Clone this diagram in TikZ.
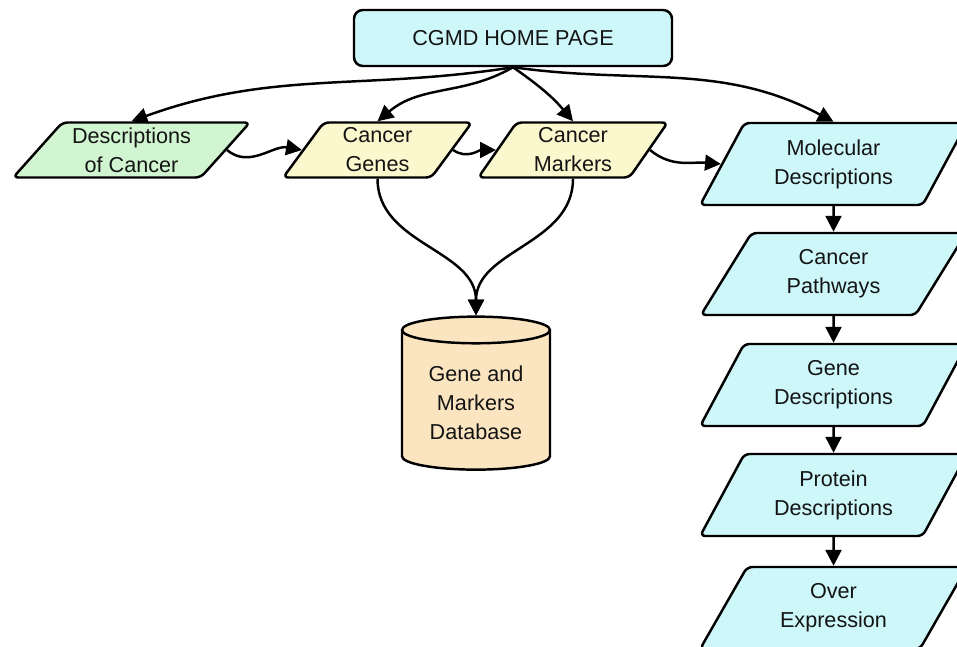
\documentclass[tikz,border=0pt]{standalone}
\usepackage{fontspec}
\setmainfont{Liberation Sans}
\usetikzlibrary{arrows.meta,shapes.geometric}
\definecolor{cyanfill}{RGB}{206,247,250}
\definecolor{greenfill}{RGB}{208,245,208}
\definecolor{yellowfill}{RGB}{251,248,205}
\definecolor{tanfill}{RGB}{251,229,192}
\tikzset{
  flow/.style={-{Triangle[length=9pt, width=9pt]}, line width=1.4pt, draw=black},
  homebox/.style={draw=black, line width=1.4pt, rectangle, rounded corners=5pt, fill=cyanfill, minimum width=6.36cm, minimum height=1.12cm},
  slanted/.style={draw=black, line width=1.4pt, trapezium, trapezium stretches=true, rounded corners=3pt, align=center, inner sep=1pt,
    trapezium left angle=60, trapezium right angle=120},
  topbox/.style={slanted, fill=yellowfill, minimum width=3.8cm, minimum height=1.1cm},
  sidebox/.style={slanted, fill=cyanfill, minimum width=5.34cm, minimum height=1.64cm},
  dbase/.style={draw=black, line width=1.4pt, cylinder, shape border rotate=90, aspect=0.25, fill=tanfill, align=center,
    minimum width=2.96cm, minimum height=3.06cm}
}
\begin{document}
\begin{tikzpicture}[font=\fontsize{12.3}{16.5}\selectfont, text=black!92]
  \useasboundingbox (0,0) rectangle (19.14,-12.92);

  \node[homebox] (home) at (10.26,-0.76) {CGMD HOME PAGE};

  % top row
  \node[topbox, fill=greenfill, minimum width=4.74cm, trapezium left angle=48, trapezium right angle=132] (desc) at (2.63,-3.0) {Descriptions\\of Cancer};
  \node[topbox] (genes) at (7.55,-3.0) {Cancer\\Genes};
  \node[topbox] (markers) at (11.46,-3.0) {Cancer\\Markers};

  % right column
  \node[sidebox] (molec) at (16.67,-3.28) {Molecular\\Descriptions};
  \node[sidebox] (path) at (16.67,-5.48) {Cancer\\Pathways};
  \node[sidebox] (gened) at (16.67,-7.70) {Gene\\Descriptions};
  \node[sidebox] (prot) at (16.67,-9.90) {Protein\\Descriptions};
  \node[sidebox] (over) at (16.67,-12.16) {Over\\Expression};

  \node[dbase] (db) at (9.52,-8.06) {Gene and\\Markers\\Database};

  \draw[flow] (home.south) to[out=189, in=20] (desc.north);
  \draw[flow] (home.south) to[out=210, in=40] (genes.north);
  \draw[flow] (home.south) to[out=-35, in=130] (markers.north);
  \draw[flow] (home.south) to[out=-8, in=152] (molec.north);

  \draw[flow] (desc.east) to[out=-40, in=170] (genes.west);
  \draw[flow] (genes.east) to[out=-35, in=180] (markers.west);
  \draw[flow] (markers.east) to[out=-40, in=175] (molec.west);

  \draw[flow] (genes.south) to[out=-90, in=90] (db.north);
  \draw[flow] (markers.south) to[out=-90, in=90] (db.north);

  \foreach \a/\b in {molec/path, path/gened, gened/prot, prot/over}
    \draw[flow] (\a.south) -- (\b.north);
\end{tikzpicture}
\end{document}
